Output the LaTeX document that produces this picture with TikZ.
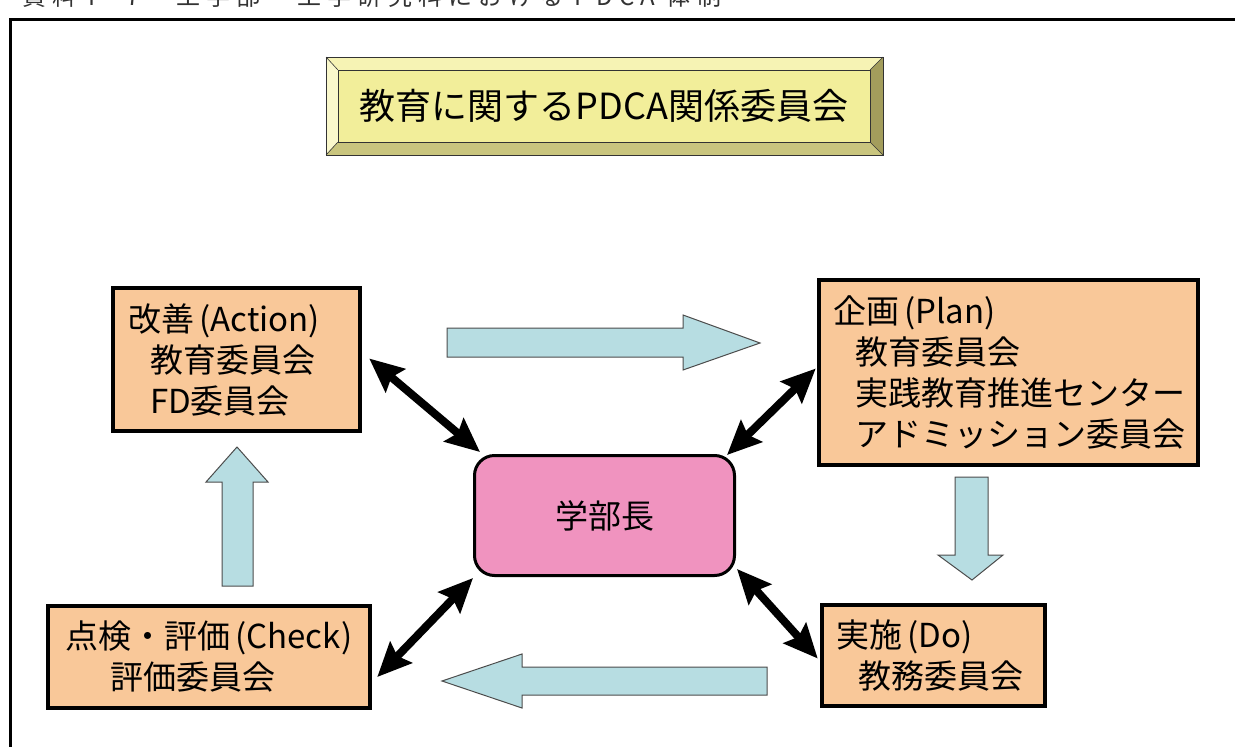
\documentclass[tikz,border=0pt]{standalone}
\usepackage{fontspec}
\setmainfont{Noto Sans CJK JP}
\newfontfamily\capfont[LetterSpace=26]{Noto Sans CJK JP}
\usetikzlibrary{arrows.meta,calc}
\definecolor{peach}{HTML}{F9C899}
\definecolor{deanpink}{HTML}{F093BF}
\definecolor{lightblue}{HTML}{B7DDE2}
\definecolor{bevelface}{HTML}{F2EE9A}
\definecolor{beveltop}{HTML}{F6F3B4}
\definecolor{bevelleft}{HTML}{FAF8CC}
\definecolor{bevelbottom}{HTML}{C9C57E}
\definecolor{bevelright}{HTML}{A39D5C}
\tikzset{
  pdcabox/.style={draw=black, line width=4.5pt, fill=peach, rectangle, align=left,
    inner ysep=0pt, font=\fontsize{33}{41}\selectfont},
  deanbox/.style={draw=black, line width=3pt, fill=deanpink, rectangle, rounded corners=20pt,
    font=\fontsize{33}{41}\selectfont},
  blockarrow/.style={draw=black!70, line width=1pt, fill=lightblue, line join=miter},
  link/.style={draw=black, line width=8pt, {Stealth[length=34pt,width=30pt,inset=5pt]}-{Stealth[length=34pt,width=30pt,inset=5pt]}},
}
\begin{document}
\begin{tikzpicture}[x=1pt,y=-1pt]
\useasboundingbox (0,0) rectangle (1235,747);
% outer frame (only top and left visible)
\draw[line width=3pt] (10,19) rectangle (1260,770);
% cut-off caption
\node[anchor=base west, inner sep=0pt, font=\capfont\fontsize{24}{24}\selectfont, text=black!80] (caption) at (22,5) {資料 I - 7　工学部・工学研究科における PDCA 体制};

% bevelled title
\node[fill=bevelface, minimum width=532pt, minimum height=72pt, inner sep=0pt,
  font=\fontsize{36}{36}\selectfont] (title) at (604,106) {教育に関するPDCA関係委員会};
\coordinate (to1) at (326,57);
\coordinate (to2) at (883,57);
\coordinate (to3) at (883,155);
\coordinate (to4) at (326,155);
\fill[beveltop] (to1) -- (to2) -- (title.north east) -- (title.north west) -- cycle;
\fill[bevelleft] (to1) -- (title.north west) -- (title.south west) -- (to4) -- cycle;
\fill[bevelbottom] (to4) -- (title.south west) -- (title.south east) -- (to3) -- cycle;
\fill[bevelright] (to2) -- (title.north east) -- (title.south east) -- (to3) -- cycle;
\draw[black!80, line width=0.8pt] (to1) rectangle (to3);
\draw[black!80, line width=0.6pt] (title.north west) rectangle (title.south east);
\draw[black!80, line width=0.6pt] (to1) -- (title.north west) (to2) -- (title.north east)
  (to3) -- (title.south east) (to4) -- (title.south west);

% PDCA boxes
\node[pdcabox, minimum width=247pt, minimum height=143pt, text width=217pt, inner xsep=15pt] (act) at (236.5,359.5)
  {改善\,(Action)\\\hspace*{22pt}教育委員会\\\hspace*{22pt}FD委員会};
\node[pdcabox, minimum width=379pt, minimum height=185pt, text width=351pt, inner xsep=14pt] (plan) at (1008.5,372.5)
  {企画\,(Plan)\\\hspace*{22pt}教育委員会\\\hspace*{22pt}実践教育推進センター\\\hspace*{22pt}アドミッション委員会};
\node[pdcabox, minimum width=322pt, minimum height=102pt, text width=288pt, inner xsep=17pt] (check) at (209,657)
  {点検・評価\,(Check)\\\hspace*{45pt}評価委員会};
\node[pdcabox, minimum width=223pt, minimum height=101pt, text width=195pt, inner xsep=14pt] (do) at (933.5,655.5)
  {実施\,(Do)\\\hspace*{22pt}教務委員会};
\node[deanbox, minimum width=260pt, minimum height=120pt] (dean) at (604.5,515.5) {学部長};

% cycle block arrows
\draw[blockarrow] (447,328) -- (683,328) -- (683,315) -- (760,343) -- (683,370) -- (683,357) -- (447,357) -- cycle;
\draw[blockarrow] (955,477) -- (988,477) -- (988,555) -- (1003,555) -- (972,580) -- (938,555) -- (955,555) -- cycle;
\draw[blockarrow] (767,667) -- (522,667) -- (522,654) -- (442,681) -- (522,708) -- (522,695) -- (767,695) -- cycle;
\draw[blockarrow] (222,586) -- (222,482) -- (206,482) -- (237,447) -- (268,482) -- (253,482) -- (253,586) -- cycle;

% links to the dean
\draw[link] ($(act.east)+(7,-1)$) -- ($(dean.north west)+(7,-2)$);
\draw[link] ($(plan.west)+(-1,-4)$) -- ($(dean.north east)+(-9,1)$);
\draw[link] ($(check.east)+(5,20)$) -- ($(dean.south west)+(0,1)$);
\draw[link] ($(do.west)+(-2,3)$) -- ($(dean.south east)+(1,-8)$);
\end{tikzpicture}
\end{document}
